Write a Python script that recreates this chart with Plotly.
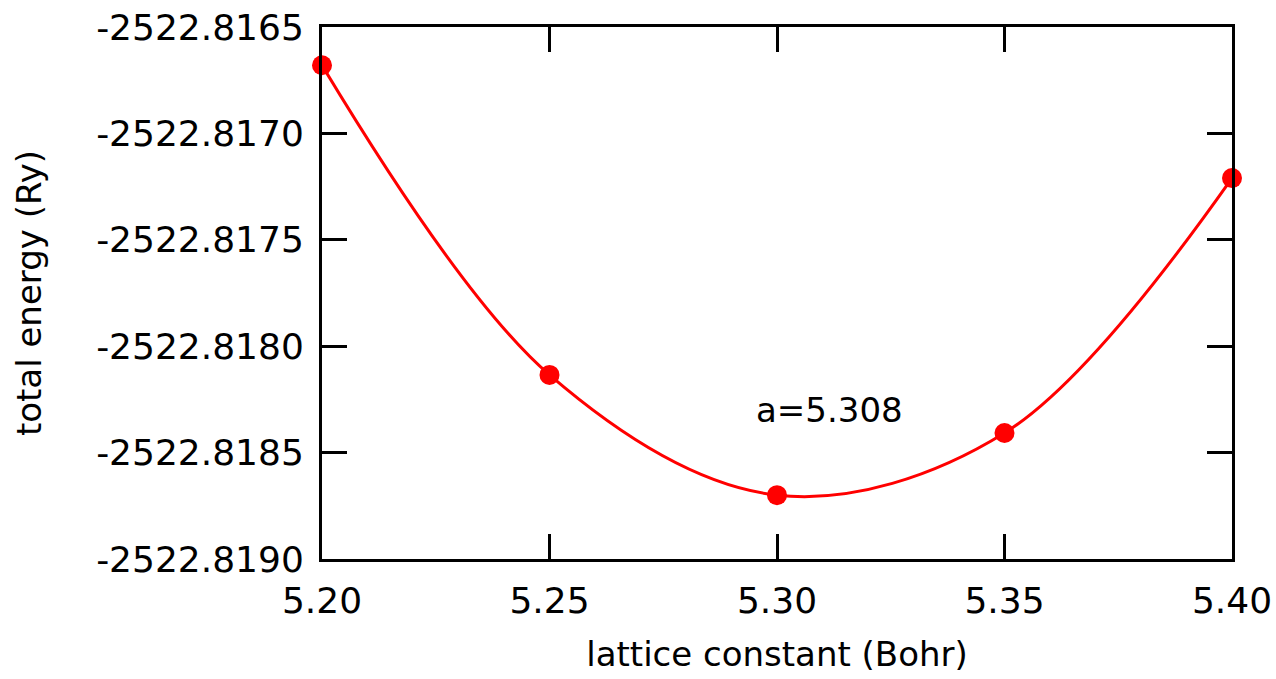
import plotly.graph_objects as go

lattice = [5.20, 5.25, 5.30, 5.35, 5.40]
energy = [-2522.81668, -2522.818135, -2522.81870, -2522.818408, -2522.81721]
x_ticks = [5.20, 5.25, 5.30, 5.35, 5.40]
x_ticktext = ["5.20", "5.25", "5.30", "5.35", "5.40"]
y_ticks = [-2522.8190, -2522.8185, -2522.8180, -2522.8175, -2522.8170, -2522.8165]
y_ticktext = ["-2522.8190", "-2522.8185", "-2522.8180", "-2522.8175", "-2522.8170", "-2522.8165"]
annotation_text = "a=5.308"

FONT = "DejaVu Sans"

fig = go.Figure()
fig.add_trace(go.Scatter(
    x=lattice, y=energy, mode="lines",
    line=dict(color="#ff0000", width=3, shape="spline", smoothing=1.0),
    showlegend=False, hoverinfo="skip", cliponaxis=False,
))
fig.add_trace(go.Scatter(
    x=lattice, y=energy, mode="markers",
    marker=dict(color="#ff0000", size=20),
    showlegend=False, cliponaxis=False,
))

fig.add_annotation(x=5.3115, y=-2522.8183, text=annotation_text, showarrow=False,
                   font=dict(family=FONT, size=34, color="black"))

axis_common = dict(
    showline=True, linecolor="black", linewidth=3, mirror="allticks",
    ticks="inside", ticklen=25, tickwidth=3, tickcolor="black",
    showgrid=False, zeroline=False,
    tickfont=dict(family=FONT, size=36, color="black"),
)

fig.update_xaxes(
    range=[5.20, 5.40], tickvals=x_ticks, ticktext=x_ticktext,
    title=dict(text="lattice constant (Bohr)", font=dict(family=FONT, size=34, color="black"), standoff=22),
    ticklabelstandoff=8,
    **axis_common,
)
fig.update_yaxes(
    range=[-2522.8190, -2522.8165], tickvals=y_ticks, ticktext=y_ticktext,
    title=dict(text="total energy (Ry)", font=dict(family=FONT, size=34, color="black"), standoff=45),
    ticklabelstandoff=8,
    **axis_common,
)

fig.update_layout(
    width=1276, height=679,
    margin=dict(l=322, r=44, t=27, b=120, autoexpand=False),
    paper_bgcolor="white", plot_bgcolor="white",
    font=dict(family=FONT, color="black"),
)

fig.write_html("out.html")
